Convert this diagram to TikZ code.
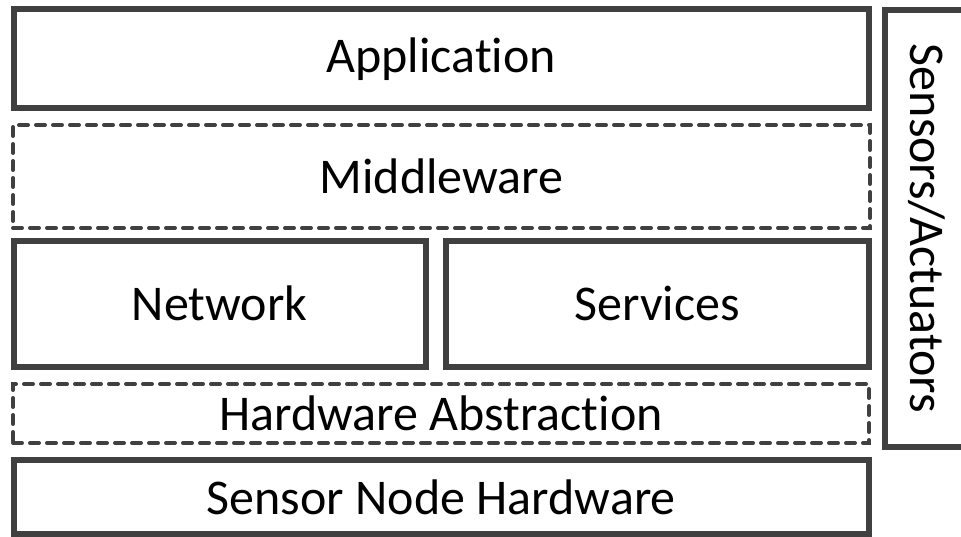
\documentclass[tikz,border=0pt]{standalone}
\usepackage{fontspec}
\setmainfont[Ligatures=NoCommon,RawFeature={-liga;-clig;-dlig}]{Carlito}
\definecolor{edge}{HTML}{404040}
\begin{document}
\begin{tikzpicture}[x=1pt,y=-1pt,
  layer/.style={draw=edge, line width=6pt, rectangle, inner sep=0pt, font=\fontsize{50}{60}\selectfont, text=black},
  dlayer/.style={draw=edge, line width=4pt, dash pattern=on 9pt off 8pt, line cap=round, rectangle, inner sep=0pt, font=\fontsize{50}{60}\selectfont, text=black}]
\path[use as bounding box, clip] (0,0) rectangle (961,537);
\node[layer, minimum width=855.5pt, minimum height=98.5pt] (app) at (441.25,58.75) {Application};
\node[dlayer, minimum width=857pt, minimum height=103pt] (mid) at (441.5,176.5) {Middleware};
\node[layer, minimum width=412pt, minimum height=125.5pt] (net) at (219.5,303.75) {Network};
\node[layer, minimum width=423.5pt, minimum height=125.5pt] (srv) at (657.25,303.75) {Services};
\node[dlayer, minimum width=856pt, minimum height=59pt] (hal) at (441,413.5) {Hardware Abstraction};
\node[layer, minimum width=855.5pt, minimum height=74pt] (hw) at (441.25,497) {Sensor Node Hardware};
\node[layer, minimum width=437pt, minimum height=83pt, rotate=-90] (sa) at (926.5,228.5) {Sensors/Actuators};
\end{tikzpicture}
\end{document}
